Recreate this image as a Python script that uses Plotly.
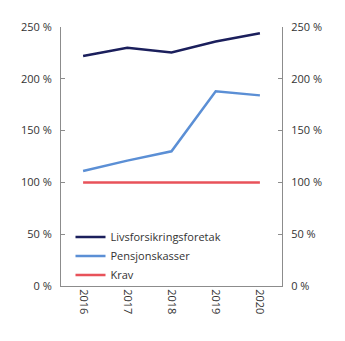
import plotly.graph_objects as go

years = ["2016", "2017", "2018", "2019", "2020"]
livs = [222, 230, 225.5, 236, 244]
pensjon = [111, 121, 130, 188, 184]
krav = [100, 100, 100, 100, 100]
yticks = [0, 50, 100, 150, 200, 250]

font = "Open Sans"
grey = "#8c8c8c"
txt = "#333333"

fig = go.Figure()
fig.add_trace(go.Scatter(x=years, y=livs, name="Livsforsikringsforetak", mode="lines",
                         line=dict(color="#1b1f5c", width=2.5)))
fig.add_trace(go.Scatter(x=years, y=pensjon, name="Pensjonskasser", mode="lines",
                         line=dict(color="#5b8fd5", width=2.5)))
fig.add_trace(go.Scatter(x=years, y=krav, name="Krav", mode="lines",
                         line=dict(color="#e8525a", width=2.5)))
# invisible trace for right axis
fig.add_trace(go.Scatter(x=years, y=krav, yaxis="y2", mode="lines", showlegend=False,
                         line=dict(width=0), hoverinfo="skip", opacity=0))

axis_common = dict(range=[0, 250], tickvals=yticks, ticktext=[f"{v} %" for v in yticks],
                   showgrid=False, zeroline=False, showline=True, linecolor=grey, linewidth=1,
                   ticks="inside", ticklen=4, tickcolor=grey, tickwidth=1,
                   tickfont=dict(family=font, size=11, color=txt))

fig.update_layout(
    width=345, height=341,
    margin=dict(l=61, r=63, t=27, b=55),
    paper_bgcolor="white", plot_bgcolor="white",
    font=dict(family=font, size=11, color=txt),
    xaxis=dict(type="category", range=[-0.5, 4.5], showgrid=False, zeroline=False,
               showline=True, linecolor=grey, linewidth=1, ticks="", tickangle=90,
               tickfont=dict(family=font, size=11, color=txt)),
    yaxis=dict(**axis_common, side="left", ticklabelstandoff=6),
    yaxis2=dict(**axis_common, side="right", overlaying="y", ticklabelstandoff=6),
    legend=dict(x=0.043, y=0.245, xanchor="left", yanchor="top", bgcolor="rgba(0,0,0,0)",
                font=dict(family=font, size=11, color=txt), tracegroupgap=0),
    showlegend=True,
)

fig.write_html("out.html")
